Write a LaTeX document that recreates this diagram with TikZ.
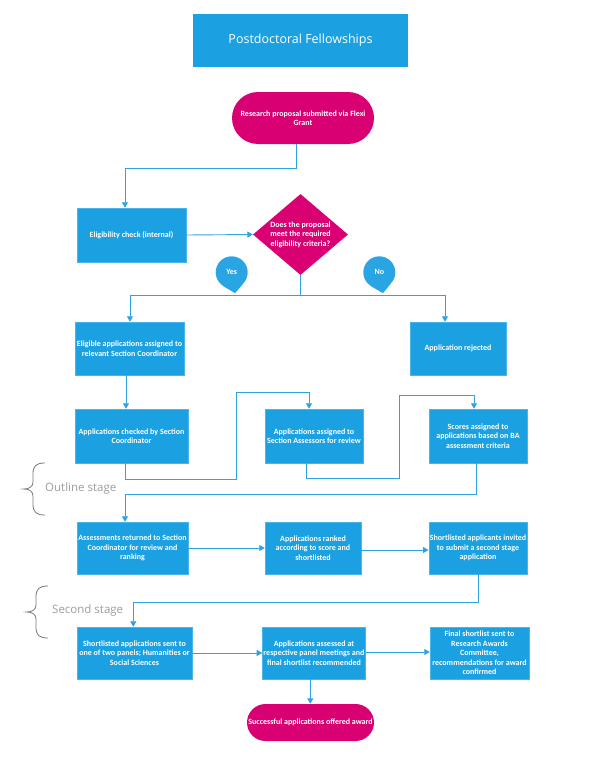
\documentclass[tikz,border=0pt]{standalone}
\usepackage{fontspec}
\setmainfont{Carlito}
\newfontfamily\titlefont{Open Sans}
\usetikzlibrary{shapes.geometric,arrows.meta,calc}
\definecolor{boxblue}{HTML}{1BA1E2}
\definecolor{lineblue}{HTML}{2FA2E0}
\definecolor{mag}{HTML}{D80073}
\definecolor{bubble}{HTML}{2AA5E3}
\definecolor{stagegray}{HTML}{9C9C9C}
\definecolor{bracegray}{HTML}{7A7A7A}
\begin{document}
\begin{tikzpicture}[x=1pt,y=-1pt,
  box/.style={rectangle, fill=boxblue, draw=boxblue!80!white, line width=0.5pt, text=white,
    font=\fontsize{8}{9.5}\selectfont\bfseries, align=center, inner sep=1pt, minimum height=54pt},
  term/.style={rectangle, fill=mag, text=white, font=\fontsize{8}{9.5}\selectfont\bfseries,
    align=center, inner sep=1pt},
  conn/.style={draw=lineblue, line width=0.9pt},
  arr/.style={conn, -{Triangle[length=5.5pt,width=6pt]}},
  bub/.style={circle, fill=bubble, minimum size=32pt, inner sep=0pt, text=white,
    font=\fontsize{8}{9}\selectfont\bfseries},
  stage/.style={text=stagegray, font=\titlefont\fontsize{11.5}{13}\selectfont, anchor=west, inner sep=0pt},
  brace/.style={draw=bracegray, line width=0.8pt}
]
\useasboundingbox (0,0) rectangle (592,760);

% title
\node[rectangle, fill=boxblue, minimum width=215pt, minimum height=53pt, text=white,
  font=\titlefont\fontsize{12.5}{15}\selectfont] (title) at (300.5,40.5) {Postdoctoral Fellowships};

% start
\node[term, minimum width=142pt, minimum height=52pt, rounded corners=26pt] (start) at (303,118)
  {Research proposal submitted via Flexi\\Grant};

% eligibility check
\node[box, minimum width=109pt] (elig) at (131.5,235) {Eligibility check (internal)};

% decision
\node[diamond, fill=mag, minimum width=95pt, minimum height=81pt, inner sep=0pt, aspect=1.17,
  label={[text=white, font=\fontsize{8}{9.5}\selectfont\bfseries, align=center]center:Does the proposal\\meet the required\\eligibility criteria?}]
  (dia) at (300.5,234.5) {};

% bubbles
\node[bub] (yes) at (231.7,272.3) {Yes};
\fill[bubble] (yes.-125) -- ($(yes.south)+(3.3,4.7)$) -- (yes.-45) -- cycle;
\node[bub] (no) at (379.3,272.3) {No};
\fill[bubble] (no.-125) -- ($(no.south)+(3.6,4.7)$) -- (no.-45) -- cycle;

% second row
\node[box, minimum width=109pt, minimum height=53pt] (eligapp) at (129.5,348.5)
  {Eligible applications assigned to\\relevant Section Coordinator};
\node[box, minimum width=96pt, minimum height=53pt] (rej) at (458,348.5) {Application rejected};

% third row
\node[box, minimum width=113pt] (checked) at (131.5,436) {Applications checked by Section\\Coordinator};
\node[box, minimum width=98pt] (assessors) at (314,436) {Applications assigned to\\Section Assessors for review};
\node[box, minimum width=98pt] (scores) at (478,436) {Scores assigned to\\applications based on BA\\assessment criteria};

% fourth row
\node[box, minimum width=111pt, minimum height=52pt] (returned) at (132.5,548)
  {Assessments returned to Section\\Coordinator for review and\\ranking};
\node[box, minimum width=96pt, minimum height=52pt] (ranked) at (313,548)
  {Applications ranked\\according to score and\\shortlisted};
\node[box, minimum width=98pt, minimum height=52pt] (invited) at (478,548)
  {Shortlisted applicants invited\\to submit a second stage\\application};

% fifth row
\node[box, minimum width=115pt, minimum height=52pt] (shortl) at (134.5,653)
  {Shortlisted applications sent to\\one of two panels; Humanities or\\Social Sciences};
\node[box, minimum width=102pt, minimum height=52pt] (assessed) at (314,653)
  {Applications assessed at\\respective panel meetings and\\final shortlist recommended};
\node[box, minimum width=99pt, minimum height=52pt] (final) at (479.5,653)
  {Final shortlist sent to\\Research Awards\\Committee,\\recommendations for award\\confirmed};

% end
\node[term, minimum width=127pt, minimum height=37pt, rounded corners=18.5pt] (success) at (310.5,722.5)
  {Successful applications offered award};

% stage labels and braces
\node[stage] (outline) at (45,489) {Outline stage};
\draw[brace] (45,463) .. controls (36,463) and (33,466) .. (33,474) -- (33,482)
  .. controls (33,487) and (29,489) .. (23.5,489)
  .. controls (29,489) and (33,491) .. (33,496) -- (33,504)
  .. controls (33,512) and (36,515) .. (45,515);
\node[stage] (second) at (52,611) {Second stage};
\draw[brace] (48,586) .. controls (39,586) and (36,589) .. (36,597) -- (36,605)
  .. controls (36,610) and (32,612) .. (26.5,612)
  .. controls (32,612) and (36,614) .. (36,619) -- (36,627)
  .. controls (36,635) and (39,638) .. (48,638);

% connectors
\draw[arr] ([xshift=-7pt]start.south) -- ++(0,24) -| ([xshift=-6.5pt]elig.north);
\draw[arr] (elig.east) -- (dia.west);
\draw[arr] (dia.south) -- ++(0,20.5) -| ([xshift=0.5pt]eligapp.north);
\draw[arr] (dia.south) -- ++(0,20.5) -| ([xshift=-13pt]rej.north);
\draw[arr] ([xshift=-3.5pt]eligapp.south) -- ([xshift=-5.5pt]checked.north);
\draw[arr] ([xshift=-6.5pt]checked.south) -- ++(0,16.5) -- ++(111,0) -- ++(0,-87) -| ([xshift=-5pt]assessors.north);
\draw[arr] ([xshift=-8pt]assessors.south) -- ++(0,15.5) -- ++(93,0) -- ++(0,-83.5) -| ([xshift=-4pt]scores.north);
\draw[arr] ([xshift=-2pt]scores.south) -- ++(0,31.5) -| ([xshift=-7.5pt]returned.north);
\draw[arr] (returned.east) -- (ranked.west);
\draw[arr] ([yshift=-2pt]ranked.east) -- ([yshift=-2pt]invited.west);
\draw[arr] (invited.south) -- ++(0,28) -| ([xshift=-1.2pt]shortl.north);
\draw[arr] (shortl.east) -- (assessed.west);
\draw[arr] ([yshift=1pt]assessed.east) -- ([yshift=1pt]final.west);
\draw[arr] ([xshift=-3.7pt]assessed.south) -- ([xshift=-0.2pt]success.north);
\end{tikzpicture}
\end{document}
